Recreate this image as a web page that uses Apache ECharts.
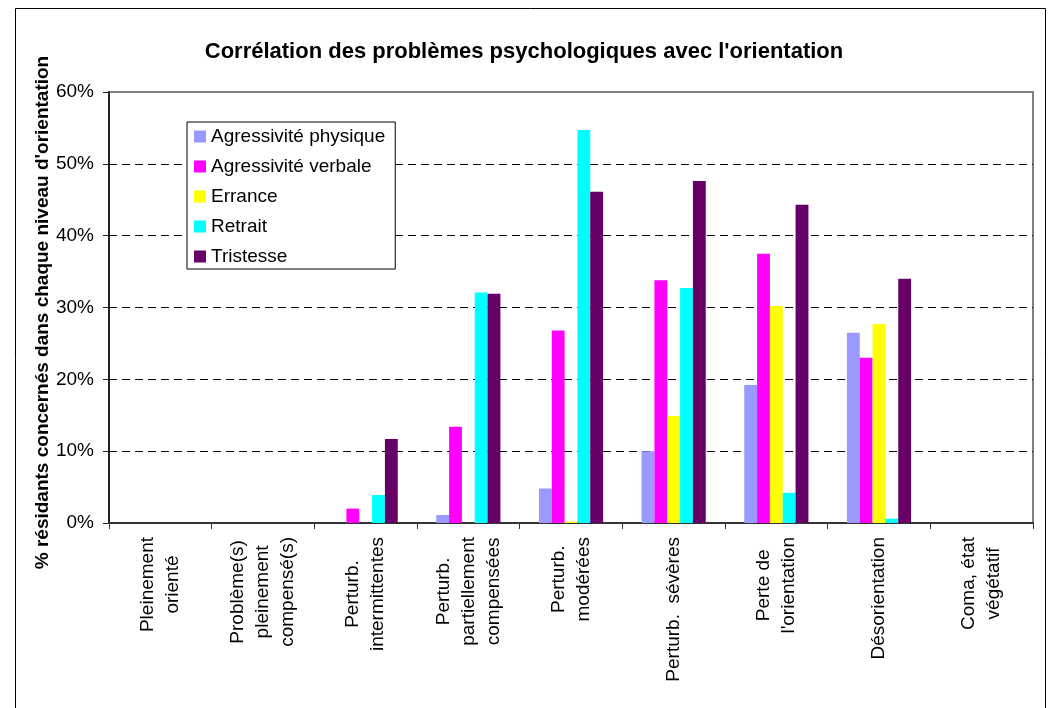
<!DOCTYPE html>
<html>
<head>
<meta charset="utf-8">
<script src="https://cdn.jsdelivr.net/npm/echarts@6/dist/echarts.min.js"></script>
<style>
  html, body { margin: 0; padding: 0; background: #fff; }
  #chart { width: 1054px; height: 708px; }
</style>
</head>
<body>
<div id="chart"></div>
<script>
// categories (orientation levels)
const categories = [
  'Pleinement\norienté',
  'Problème(s)\npleinement\ncompensé(s)',
  'Perturb.\nintermittentes',
  'Perturb.\npartiellement\ncompensées',
  'Perturb.\nmodérées',
  'Perturb.  sévères',
  'Perte de\nl\'orientation',
  'Désorientation',
  'Coma, état\nvégétatif'
]
// % of residents
const agressPhysique = [0, 0, 0, 1.1, 4.8, 10.0, 19.2, 26.5, 0]
const agressVerbale = [0, 0, 2.0, 13.4, 26.8, 33.8, 37.5, 23.0, 0]
const errance = [0, 0, 0, 0, 0.2, 14.9, 30.2, 27.7, 0]
const retrait = [0, 0, 3.9, 32.1, 54.7, 32.7, 4.2, 0.6, 0]
const tristesse = [0, 0, 11.7, 31.9, 46.1, 47.6, 44.3, 34.0, 0]
const seriesNames = ['Agressivité physique', 'Agressivité verbale', 'Errance', 'Retrait', 'Tristesse']
const seriesColors = ['#9999FF', '#FF00FF', '#FFFF00', '#00FFFF', '#660066']
const yMin = 0
const yMax = 60
const yStep = 10

const allData = [agressPhysique, agressVerbale, errance, retrait, tristesse]
const font = '"Liberation Sans", Arial, sans-serif'

let chart = echarts.init(document.getElementById('chart'), null, { renderer: 'canvas' })

let option = {
  animation: false,
  textStyle: { fontFamily: font, color: '#000' },
  title: {
    text: 'Corrélation des problèmes psychologiques avec l\'orientation',
    left: 524,
    top: 41,
    padding: 0,
    textAlign: 'center',
    textStyle: { fontFamily: font, fontSize: 22, fontWeight: 'bold', color: '#000' }
  },
  legend: {
    orient: 'vertical',
    left: 187,
    top: 122,
    padding: [5, 10, 3, 7],
    itemGap: 11,
    itemWidth: 12,
    itemHeight: 12,
    icon: 'rect',
    borderColor: '#000',
    borderWidth: 1,
    backgroundColor: '#fff',
    selectedMode: false,
    textStyle: { fontFamily: font, fontSize: 19, lineHeight: 19, color: '#000' },
    data: seriesNames
  },
  grid: {
    left: 109,
    top: 92,
    right: 21,
    bottom: 185,
    show: true,
    borderColor: '#808080',
    borderWidth: 2,
    containLabel: false,
    outerBoundsMode: 'none'
  },
  graphic: [{
    type: 'rect',
    shape: { x: 15.5, y: 8.5, width: 1030, height: 720 },
    style: { fill: 'none', stroke: '#000', lineWidth: 1 },
    silent: true
  }],
  xAxis: {
    type: 'category',
    data: categories,
    axisLine: { lineStyle: { color: '#333', width: 2 } },
    axisTick: { show: true, length: 6, lineStyle: { color: '#333' } },
    splitLine: { show: false },
    axisLabel: {
      interval: 0,
      rotate: 90,
      margin: 14,
      color: '#000',
      fontSize: 19,
      formatter: function (v) {
        return v.split('\n').map(function (l) { return '{l|' + l + '}' }).join('\n')
      },
      rich: {
        l: { align: 'center', fontFamily: font, fontSize: 19, lineHeight: 25, color: '#000' }
      }
    }
  },
  yAxis: {
    type: 'value',
    min: yMin,
    max: yMax,
    interval: yStep,
    name: '% résidants concernés dans chaque niveau d\'orientation',
    nameLocation: 'middle',
    nameRotate: 90,
    nameGap: 57,
    nameMoveOverlap: false,
    nameTextStyle: { fontFamily: font, fontSize: 19, fontWeight: 'bold', color: '#000', padding: [0, 10, 0, 0] },
    axisLine: { show: true, lineStyle: { color: '#222', width: 2 } },
    axisTick: { show: true, length: 6, lineStyle: { color: '#222' } },
    axisLabel: { margin: 15, color: '#000', fontSize: 19, formatter: '{value}%' },
    splitLine: {
      show: true,
      showMinLine: false,
      showMaxLine: false,
      lineStyle: { color: '#000', width: 1, type: [8, 5] }
    }
  },
  series: seriesNames.map(function (name, i) {
    return {
      name: name,
      type: 'bar',
      data: allData[i],
      barWidth: '12.5%',
      barGap: '0%',
      itemStyle: { color: seriesColors[i] },
      silent: true
    }
  })
}

chart.setOption(option)
</script>
</body>
</html>
